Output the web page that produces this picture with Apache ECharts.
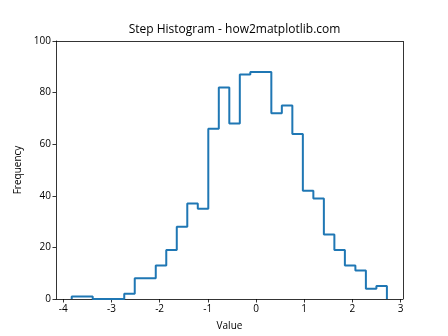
<!DOCTYPE html>
<html>
<head>
<meta charset="utf-8">
<script src="https://cdn.jsdelivr.net/npm/echarts@6/dist/echarts.min.js"></script>
<style>html,body{margin:0;padding:0;background:#fff}#c{width:448px;height:336px}</style>
</head>
<body>
<div id="c"></div>
<script>
var binStart = -3.824;
var binWidth = 0.218;
var counts = [1, 1, 0, 0, 0, 2, 8, 8, 13, 19, 28, 37, 35, 66, 82, 68, 87, 88, 88, 72, 75, 64, 42, 39, 25, 19, 13, 11, 4, 5];
var xTicks = [-4, -3, -2, -1, 0, 1, 2, 3];
var yTicks = [0, 20, 40, 60, 80, 100];
var titleText = 'Step Histogram - how2matplotlib.com';
var xName = 'Value';
var yName = 'Frequency';

var edges = [];
for (var i = 0; i <= counts.length; i++) edges.push(+(binStart + i * binWidth).toFixed(4));
var pts = [[edges[0], 0]];
for (var j = 0; j < counts.length; j++) {
  pts.push([edges[j], counts[j]]);
  pts.push([edges[j + 1], counts[j]]);
}
pts.push([edges[counts.length], 0]);

var font = 'Open Sans';
var chart = echarts.init(document.getElementById('c'), null, {renderer: 'canvas'});
chart.setOption({
  animation: false,
  title: {
    text: titleText, left: 229.5, textAlign: 'center', top: 19,
    textStyle: {fontFamily: font, fontSize: 12, fontWeight: 'normal', color: '#000'}
  },
  grid: {left: 56, right: 45, top: 41, bottom: 37, show: false},
  xAxis: {
    type: 'value', min: -4.15, max: 3.05,
    name: xName, nameLocation: 'middle', nameGap: 22,
    nameTextStyle: {fontFamily: font, fontSize: 10, color: '#000'},
    axisLine: {show: true, onZero: false, lineStyle: {color: '#000', width: 0.8}},
    axisTick: {show: true, length: 3.5, customValues: xTicks, lineStyle: {color: '#000', width: 0.8}},
    axisLabel: {customValues: xTicks, fontFamily: font, fontSize: 10, color: '#000', margin: 5},
    splitLine: {show: false}
  },
  yAxis: {
    type: 'value', min: 0, max: 100, interval: 20,
    name: yName, nameLocation: 'middle', nameGap: 27,
    nameTextStyle: {fontFamily: font, fontSize: 10, color: '#000'},
    axisLine: {show: true, onZero: false, lineStyle: {color: '#000', width: 0.8}},
    axisTick: {show: true, length: 3.5, lineStyle: {color: '#000', width: 0.8}},
    axisLabel: {fontFamily: font, fontSize: 10, color: '#000', margin: 5},
    splitLine: {show: false}
  },
  series: [
    {
      type: 'line', data: pts, symbol: 'none', clip: false,
      lineStyle: {color: '#1f77b4', width: 2}
    },
    {
      type: 'line', data: [], symbol: 'none',
      markLine: {
        silent: true, symbol: 'none', label: {show: false},
        lineStyle: {color: '#000', width: 0.8, type: 'solid'},
        data: [[{coord: [3.05, 0]}, {coord: [3.05, 100]}], [{coord: [-4.15, 100]}, {coord: [3.05, 100]}]]
      }
    }
  ]
});
</script>
</body>
</html>
